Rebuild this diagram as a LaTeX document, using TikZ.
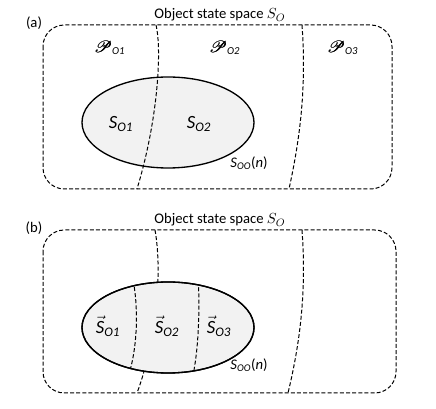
\documentclass[tikz,border=0pt]{standalone}
\usepackage{amsmath,amssymb}
\usepackage{mathrsfs}
\usepackage{fontspec}
\setmainfont{Carlito}
\usepackage{tikz}
\usetikzlibrary{positioning}
\definecolor{statefill}{HTML}{F2F2F2}
\tikzset{
  spacebox/.style={draw, line width=0.75pt, dash pattern=on 3pt off 1.6pt, rounded corners=16pt},
  partline/.style={draw, line width=0.75pt, dash pattern=on 3pt off 1.6pt},
  objset/.style={draw, line width=1pt, fill=statefill},
  titletext/.style={font=\fontsize{11}{13}\selectfont},
  paneltag/.style={font=\fontsize{11}{13}\selectfont},
  regiontext/.style={font=\fontsize{12}{14}\selectfont},
  settext/.style={font=\fontsize{14}{16}\selectfont},
  sizetext/.style={font=\fontsize{11}{13}\selectfont}
}
\newcommand{\regionP}[1]{$\pmb{\mathscr{P}}_{\textit{#1}}$}
\newcommand{\setS}[1]{$\textit{S}_{\textit{#1}}$}
\newcommand{\vecS}[1]{$\vec{\textit{S}}_{\textit{#1}}$}

\begin{document}
\begin{tikzpicture}[x=0.75pt,y=-0.75pt]
\useasboundingbox (0,0) rectangle (436,409);

% (a) partition of the object state space
\draw[spacebox] (43,25) rectangle (392,189);
\node[titletext] (titleA) at (220,15) {Object state space $S_O$};
\node[paneltag] (tagA) at (34,23) {(a)};
\node[regiontext] (pA1) at (110,48) {\regionP{O1}};
\node[regiontext] (pA2) at (225,48) {\regionP{O2}};
\node[regiontext] (pA3) at (343,48) {\regionP{O3}};
\draw[objset] (168,122.5) ellipse [x radius=86, y radius=45.5];
\draw[partline] (156,25) .. controls (162,50) and (158,120) .. (137,189);
\draw[partline] (302,25) .. controls (306,80) and (302,130) .. (289,189);
\node[settext] (sA1) at (121,124) {\setS{O1}};
\node[settext] (sA2) at (199,124) {\setS{O2}};
\node[sizetext] (nA) at (249,163) {\setS{OO}(\textit{n})};

% (b) object set split into object states
\draw[spacebox] (43,230) rectangle (396,393);
\node[titletext] (titleB) at (220,220) {Object state space $S_O$};
\node[paneltag] (tagB) at (34,228) {(b)};
\draw[partline] (155,230) .. controls (163,275) and (155,345) .. (137,393);
\draw[partline] (302,230) .. controls (306,285) and (302,335) .. (288,393);
\draw[objset] (168,327.5) ellipse [x radius=86, y radius=45.5];
\begin{scope}
  \clip (168,327.5) ellipse [x radius=86, y radius=45.5];
  \draw[partline] (132,275) .. controls (139,305) and (138,350) .. (127,380);
  \draw[partline] (198,275) .. controls (200,305) and (199,350) .. (192,380);
\end{scope}
\draw[line width=1pt] (168,327.5) ellipse [x radius=86, y radius=45.5];
\node[settext] (sB1) at (108,326) {\vecS{O1}};
\node[settext] (sB2) at (167,326) {\vecS{O2}};
\node[settext] (sB3) at (219,326) {\vecS{O3}};
\node[sizetext] (nB) at (249,365) {\setS{OO}(\textit{n})};
\end{tikzpicture}
\end{document}
